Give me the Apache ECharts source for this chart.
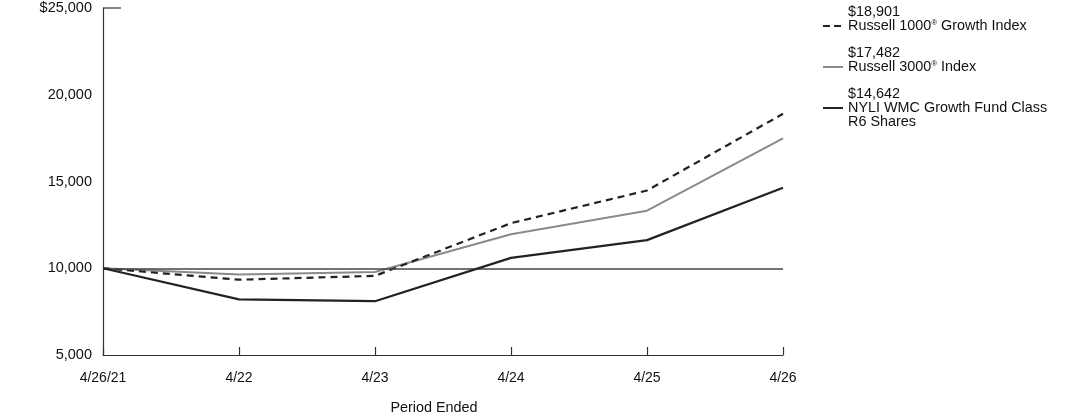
<!DOCTYPE html>
<html>
<head>
<meta charset="utf-8">
<script src="https://cdn.jsdelivr.net/npm/echarts@6/dist/echarts.min.js"></script>
<style>
  html, body { margin: 0; padding: 0; background: #fff; }
  #chart { width: 1092px; height: 417px; }
</style>
</head>
<body>
<div id="chart"></div>
<script>
// period labels on the x axis
const periods = ['4/26/21', '4/22', '4/23', '4/24', '4/25', '4/26']

// growth of $10,000 (last values are exact)
const russell1000Growth = [10000, 9340, 9560, 12600, 14480, 18901]
const russell3000 = [10000, 9640, 9780, 11960, 13320, 17482]
const nyliFund = [10000, 8210, 8100, 10600, 11620, 14642]

const yMin = 5000
const yMax = 25000
const yStep = 5000
const baseline = 10000

const fmt = v => '$' + v.toLocaleString('en-US')
const font = 'Liberation Sans, Arial, sans-serif'

// legend icons: dashed and solid short strokes
const dashIcon = 'path://M0,0h7v2h-7z M11,0h7v2h-7z M19.9,0h0.1v2h-0.1z'
const solidIcon = 'path://M0,0h20v2h-20z'

const chart = echarts.init(document.getElementById('chart'), null, { renderer: 'canvas' })

const series = [
  {
    name: 'r1000g',
    type: 'line',
    data: russell1000Growth,
    symbol: 'none',
    lineStyle: { width: 2.2, color: '#222', type: [7, 5] },
    itemStyle: { color: '#222' },
    z: 4,
    markLine: {
      silent: true,
      symbol: 'none',
      label: { show: false },
      lineStyle: { color: '#444', width: 1.5, type: 'solid' },
      data: [{ yAxis: baseline }],
    },
  },
  {
    name: 'r3000',
    type: 'line',
    data: russell3000,
    symbol: 'none',
    lineStyle: { width: 2, color: '#8a8a8a' },
    itemStyle: { color: '#8a8a8a' },
    z: 3,
  },
  {
    name: 'nyli',
    type: 'line',
    data: nyliFund,
    symbol: 'none',
    lineStyle: { width: 2.2, color: '#222' },
    itemStyle: { color: '#222' },
    z: 5,
  },
]

const legendText = {
  r1000g: fmt(russell1000Growth[russell1000Growth.length - 1]) + '\nRussell 1000{sup|®} Growth Index',
  r3000: fmt(russell3000[russell3000.length - 1]) + '\nRussell 3000{sup|®} Index',
  nyli: fmt(nyliFund[nyliFund.length - 1]) + '\nNYLI WMC Growth Fund Class\nR6 Shares',
}

chart.setOption({
  animation: false,
  textStyle: { fontFamily: font },
  grid: { left: 103, right: 309, top: 8, bottom: 62, containLabel: false, outerBoundsMode: 'none' },
  legend: {
    orient: 'vertical',
    left: 818,
    top: 0,
    itemGap: -1,
    itemWidth: 20,
    itemHeight: 2,
    data: [
      { name: 'r1000g', icon: dashIcon, textStyle: { padding: [0, 0, 14, 0] } },
      { name: 'r3000', icon: solidIcon, textStyle: { padding: [0, 0, 14, 0] } },
      { name: 'nyli', icon: solidIcon },
    ],
    formatter: name => legendText[name],
    textStyle: {
      fontFamily: font,
      fontSize: 14.4,
      lineHeight: 14,
      color: '#111',
      rich: {
        sup: { fontSize: 8, verticalAlign: 'top', lineHeight: 14, padding: [0, 0, 5, 0], color: '#111' },
      },
    },
  },
  xAxis: {
    type: 'category',
    data: periods,
    boundaryGap: false,
    name: 'Period Ended',
    nameLocation: 'middle',
    nameGap: 46,
    nameTextStyle: { fontSize: 14.4, color: '#111', fontFamily: font, padding: [0, 18, 0, 0] },
    axisLine: { lineStyle: { color: '#333', width: 1.2 } },
    axisTick: { inside: true, length: 8, lineStyle: { color: '#333', width: 1.2 } },
    axisLabel: { margin: 16, fontSize: 14, color: '#111', fontFamily: font },
    splitLine: { show: false },
  },
  yAxis: {
    type: 'value',
    min: yMin,
    max: yMax,
    interval: yStep,
    axisLine: { show: true, lineStyle: { color: '#333', width: 1.2 } },
    axisTick: { show: false },
    axisLabel: {
      margin: 11,
      fontSize: 14.5,
      color: '#111',
      fontFamily: font,
      formatter: v => (v === yMax ? fmt(v) : v.toLocaleString('en-US')),
    },
    splitLine: { show: false },
  },
  series,
})

// short tick at the top of the value axis, placed through the chart's own scale
const topPt = chart.convertToPixel({ gridIndex: 0 }, [0, yMax])
chart.setOption({
  graphic: [{
    type: 'line',
    shape: { x1: topPt[0], y1: topPt[1], x2: topPt[0] + 18, y2: topPt[1] },
    style: { stroke: '#333', lineWidth: 1.2 },
    silent: true,
  }],
})
</script>
</body>
</html>
